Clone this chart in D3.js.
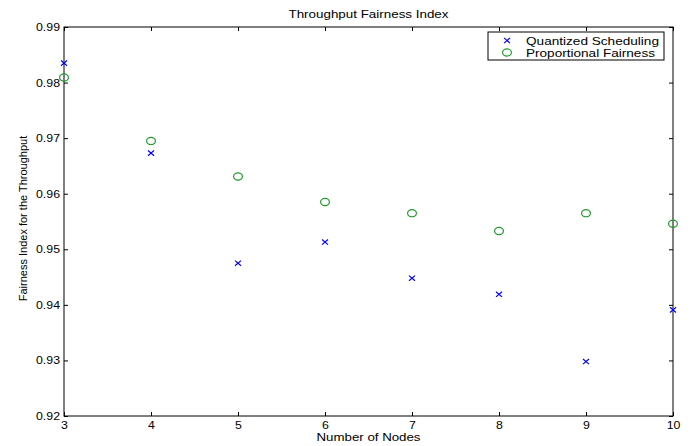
<!DOCTYPE html>
<html>
  <head>
    <meta charset="utf-8">
    <script src="https://d3js.org/d3.v7.min.js"></script>
    <style>
      body { margin: 0px; background: #fff; }
      text { font-family: "Liberation Sans", Arial, sans-serif; fill: #000; }
    </style>
  </head>
  <body>
    <svg width="697" height="446"></svg>
    <script>
      const nodes = [3, 4, 5, 6, 7, 8, 9, 10];
      const quantized = [0.9835, 0.9673, 0.9475, 0.9513, 0.9448, 0.9419, 0.9298, 0.9391];
      const proportional = [0.9809, 0.9695, 0.9631, 0.9585, 0.9565, 0.9533, 0.9565, 0.9546];
      const xTicks = [3, 4, 5, 6, 7, 8, 9, 10];
      const yTicks = [0.92, 0.93, 0.94, 0.95, 0.96, 0.97, 0.98, 0.99];

      const margin = { left: 64, top: 27 };
      const svg = d3.select('svg');
      const innerWidth = 673 - margin.left;
      const innerHeight = 416 - margin.top;

      const g = svg.append('g')
          .attr('transform', `translate(${margin.left},${margin.top})`);

      const xScale = d3.scaleLinear().domain([3, 10]).range([0, innerWidth]);
      const yScale = d3.scaleLinear().domain([0.92, 0.99]).range([innerHeight, 0]);

      // box
      g.append('rect')
        .attr('width', innerWidth).attr('height', innerHeight)
        .attr('fill', 'none').attr('stroke', '#000').attr('stroke-width', 1);

      // inward ticks on all four sides
      const tickLen = 4;
      g.append('g').attr('transform', `translate(0,${innerHeight})`)
        .call(d3.axisBottom(xScale).tickValues(xTicks).tickSize(-tickLen).tickPadding(5).tickFormat(d3.format('d')));
      g.append('g')
        .call(d3.axisTop(xScale).tickValues(xTicks).tickSize(-tickLen).tickFormat(''));
      g.append('g')
        .call(d3.axisLeft(yScale).tickValues(yTicks).tickSize(-tickLen).tickPadding(4).tickFormat(d3.format('.2f')));
      g.append('g').attr('transform', `translate(${innerWidth},0)`)
        .call(d3.axisRight(yScale).tickValues(yTicks).tickSize(-tickLen).tickFormat(''));

      g.selectAll('.domain').remove();
      g.selectAll('.tick line').attr('stroke', '#000');
      g.selectAll('.tick text').style('font-size', '11px').attr('fill', '#000');
      // picture is a bit wider than tall, stretch horizontal labels
      g.selectAll('.tick text').each(function() {
        const t = d3.select(this);
        const w = this.getComputedTextLength();
        t.attr('textLength', w * 1.12).attr('lengthAdjust', 'spacingAndGlyphs');
      });

      const mx = 3, my = 2.6;
      const crossPath = `M${-mx},${-my}L${mx},${my}M${-mx},${my}L${mx},${-my}`;
      const blue = '#0000ff', green = '#1f9a2a';

      // Quantized scheduling: blue x markers
      g.selectAll('.qs').data(nodes).enter()
        .append('path')
          .attr('class', 'qs')
          .attr('transform', (d, i) => `translate(${xScale(d)},${yScale(quantized[i])})`)
          .attr('d', crossPath)
          .attr('stroke', blue).attr('stroke-width', 1.2).attr('fill', 'none');

      // Proportional fairness: green circles
      g.selectAll('.pf').data(nodes).enter()
        .append('ellipse')
          .attr('class', 'pf')
          .attr('cx', d => xScale(d))
          .attr('cy', (d, i) => yScale(proportional[i]))
          .attr('rx', 4.4).attr('ry', 3.6)
          .attr('stroke', green).attr('stroke-width', 1.2).attr('fill', 'none');

      // title and labels
      const cx = margin.left + innerWidth / 2;
      svg.append('text')
        .attr('x', cx).attr('y', 18)
        .attr('text-anchor', 'middle').style('font-size', '11.5px')
        .attr('textLength', 160).attr('lengthAdjust', 'spacingAndGlyphs')
        .text('Throughput Fairness Index');
      svg.append('text')
        .attr('x', cx).attr('y', 441)
        .attr('text-anchor', 'middle').style('font-size', '11.5px')
        .attr('textLength', 104).attr('lengthAdjust', 'spacingAndGlyphs')
        .text('Number of Nodes');
      svg.append('text')
        .attr('transform', `translate(27,${margin.top + innerHeight / 2 - 3}) rotate(-90)`)
        .attr('text-anchor', 'middle').style('font-size', '11px')
        .text('Fairness Index for the Throughput');

      // Handmade legend
      const lg = svg.append('g').attr('transform', 'translate(488,32)');
      lg.append('rect').attr('width', 176).attr('height', 28)
        .attr('fill', '#fff').attr('stroke', '#000').attr('stroke-width', 1);
      lg.append('path')
        .attr('transform', 'translate(19,8.5)')
        .attr('d', crossPath)
        .attr('stroke', blue).attr('stroke-width', 1.2).attr('fill', 'none');
      lg.append('ellipse').attr('cx', 19).attr('cy', 20.5).attr('rx', 4.4).attr('ry', 3.6)
        .attr('stroke', green).attr('stroke-width', 1.2).attr('fill', 'none');
      lg.append('text').attr('x', 38).attr('y', 12.5).style('font-size', '11.5px')
        .attr('textLength', 133).attr('lengthAdjust', 'spacingAndGlyphs')
        .text('Quantized Scheduling');
      lg.append('text').attr('x', 38).attr('y', 24.5).style('font-size', '11.5px')
        .attr('textLength', 129).attr('lengthAdjust', 'spacingAndGlyphs')
        .text('Proportional Fairness');
    </script>
  </body>
</html>
